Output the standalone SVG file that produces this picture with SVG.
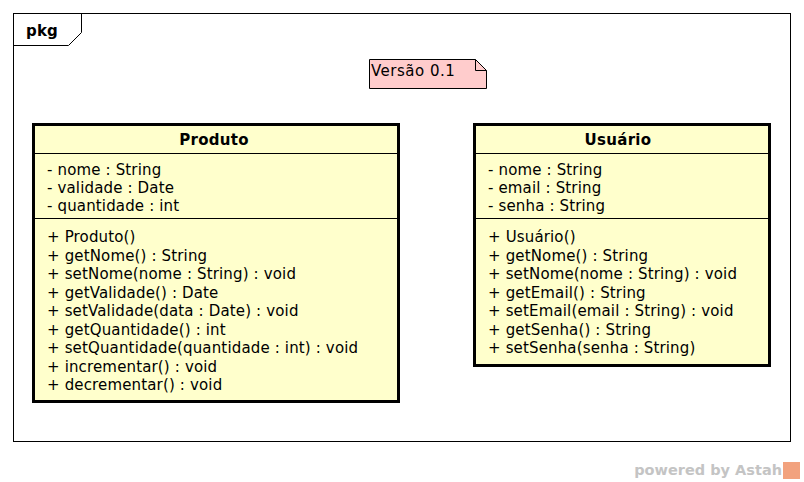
<svg xmlns="http://www.w3.org/2000/svg" width="804" height="482" viewBox="0 0 804 482">
<style>
.t{font-family:"DejaVu Sans",sans-serif;font-size:15px;letter-spacing:0.15px;fill:#000}
.b{font-weight:bold;text-anchor:middle;letter-spacing:0.3px}
.cls{fill:#ffffcc;stroke:#000;stroke-width:3}
.ln{stroke:#000;stroke-width:1;fill:none}
</style>
<rect width="804" height="482" fill="#fff"/>
<g id="frame">
<rect x="13.5" y="13.5" width="777" height="428" fill="#fff" stroke="#000"/>
<path d="M13.5 45.5 H68.5 L81.5 32.5 V13.5" class="ln"/>
<text x="26" y="36" class="t" style="font-weight:bold">pkg</text>
</g>
<g id="note">
<path d="M369.5 59.5 H475.5 L486.5 70.5 V88.5 H369.5 Z" fill="#ffcccc" stroke="#000"/>
<path d="M475.5 59.5 V70.5 H486.5" class="ln"/>
<text x="371" y="76" class="t" style="letter-spacing:0.5px">Versão 0.1</text>
</g>
<g id="produto">
<rect x="33.5" y="124.5" width="365" height="277" class="cls"/>
<line x1="33" y1="153.5" x2="398" y2="153.5" class="ln"/>
<line x1="33" y1="218.5" x2="398" y2="218.5" class="ln"/>
<text x="214" y="145" class="t b">Produto</text>
<text class="t" x="47">
<tspan x="47" y="174.5">- nome : String</tspan>
<tspan x="47" y="192.5">- validade : Date</tspan>
<tspan x="47" y="210.5">- quantidade : int</tspan>
<tspan x="47" y="242">+ Produto()</tspan>
<tspan x="47" y="260.5">+ getNome() : String</tspan>
<tspan x="47" y="279">+ setNome(nome : String) : void</tspan>
<tspan x="47" y="297.5">+ getValidade() : Date</tspan>
<tspan x="47" y="316">+ setValidade(data : Date) : void</tspan>
<tspan x="47" y="334.5">+ getQuantidade() : int</tspan>
<tspan x="47" y="353">+ setQuantidade(quantidade : int) : void</tspan>
<tspan x="47" y="371.5">+ incrementar() : void</tspan>
<tspan x="47" y="390">+ decrementar() : void</tspan>
</text>
</g>
<g id="usuario">
<rect x="474.5" y="124.5" width="295" height="241" class="cls"/>
<line x1="474" y1="153.5" x2="769" y2="153.5" class="ln"/>
<line x1="474" y1="218.5" x2="769" y2="218.5" class="ln"/>
<text x="618" y="145" class="t b">Usuário</text>
<text class="t" x="488">
<tspan x="488" y="174.5">- nome : String</tspan>
<tspan x="488" y="192.5">- email : String</tspan>
<tspan x="488" y="210.5">- senha : String</tspan>
<tspan x="488" y="242">+ Usuário()</tspan>
<tspan x="488" y="260.5">+ getNome() : String</tspan>
<tspan x="488" y="279">+ setNome(nome : String) : void</tspan>
<tspan x="488" y="297.5">+ getEmail() : String</tspan>
<tspan x="488" y="316">+ setEmail(email : String) : void</tspan>
<tspan x="488" y="334.5">+ getSenha() : String</tspan>
<tspan x="488" y="353">+ setSenha(senha : String)</tspan>
</text>
</g>
<g id="connectors"></g>
<g id="watermark">
<text x="782" y="475" style="font-family:'DejaVu Sans',sans-serif;font-size:14.5px;font-weight:bold;fill:#c4c4c4;text-anchor:end">powered by Astah</text>
<rect x="783" y="462" width="17" height="17" fill="#f2a27e"/>
</g>
</svg>
